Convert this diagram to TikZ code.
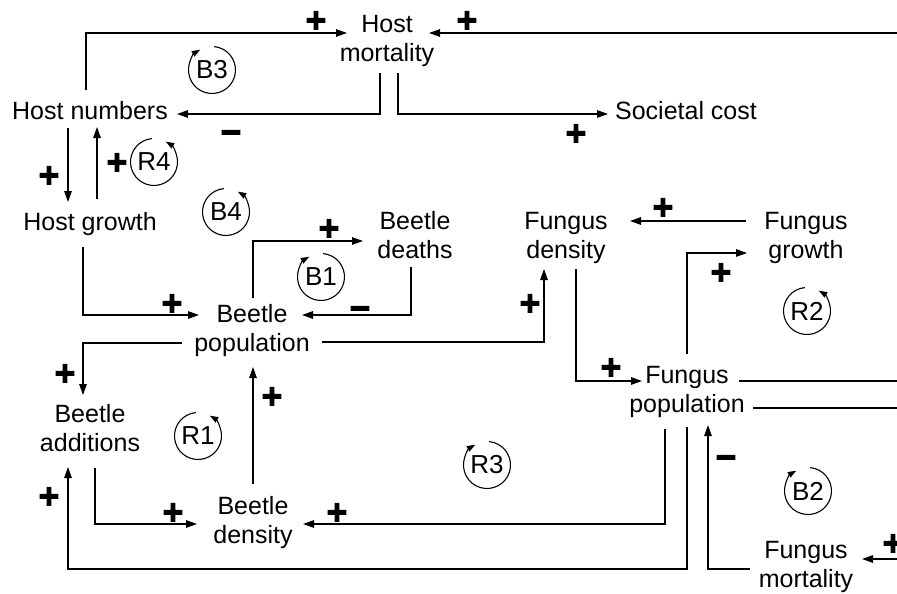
\documentclass[tikz,border=0pt]{standalone}
\usepackage{fontspec}
\setmainfont{Liberation Sans}
\newfontface\pmface{Liberation Sans Bold}[FakeBold=3]
\usetikzlibrary{arrows.meta,calc}
\begin{document}
\begin{tikzpicture}[x=1pt,y=-1pt,
  lbl/.style={inner sep=0pt, align=center, font=\fontsize{25}{29}\selectfont},
  arr/.style={line width=1.3pt, -{Triangle[length=11pt,width=7.5pt]}},
  ln/.style={line width=1.3pt},
  pm/.style={inner sep=0pt, anchor=base, yshift=-12pt, font=\pmface\fontsize{35}{35}\selectfont},
  looplbl/.style={inner sep=0pt, font=\fontsize{26}{26}\selectfont},
  looparr/.style={line width=1.1pt, -{Triangle[length=8.5pt,width=6pt]}}
]
\fill[white] (0,0) rectangle (897,594);
\useasboundingbox (0,0) rectangle (897,594);

% nodes
\node[lbl] (hm)  at (387,41)  {Host\\mortality};
\node[lbl] (hn)  at (90,111)  {Host numbers};
\node[lbl] (sc)  at (686,111) {Societal cost};
\node[lbl] (hg)  at (90,224)  {Host growth};
\node[lbl] (bdt) at (415,235) {Beetle\\deaths};
\node[lbl] (fd)  at (566,238) {Fungus\\density};
\node[lbl] (fg)  at (806,238) {Fungus\\growth};
\node[lbl] (bp)  at (252,331) {Beetle\\population};
\node[lbl] (fp)  at (687,392) {Fungus\\population};
\node[lbl] (ba)  at (90,428)  {Beetle\\additions};
\node[lbl] (bdn) at (253,523) {Beetle\\density};
\node[lbl] (fm)  at (806,567) {Fungus\\mortality};

% free ends at the right edge
\coordinate (rt1) at (900,33);
\coordinate (rt2) at (900,381);
\coordinate (rt3) at (900,408);
\coordinate (rt4) at (900,559);

% connectors
\draw[arr] ($(hn)+(-4,-21)$) |- ($(hm)+(-40,-8)$);
\draw[arr] (rt1) -- ($(hm)+(42,-8)$);
\draw[arr] ($(hm)+(-7,32)$) |- ($(hn)+(87,3)$);
\draw[arr] ($(hm)+(11,32)$) |- ($(sc)+(-78,3)$);
\draw[arr] ($(hn)+(-22,17)$) -- ($(hg)+(-22,-22)$);
\draw[arr] ($(hg)+(7,-25)$) -- ($(hn)+(7,16)$);
\draw[arr] ($(hg)+(-7,23)$) |- ($(bp)+(-53,-16)$);
\draw[arr] ($(bp)+(1,-33)$) |- ($(bdt)+(-52,6)$);
\draw[arr] ($(bdt)+(-4,32)$) |- ($(bp)+(50,-16)$);
\draw[arr] ($(bp)+(70,11)$) -| ($(fd)+(-22,31)$);
\draw[arr] ($(bp)+(-70,12)$) -| ($(ba)+(-7,-33)$);
\draw[arr] ($(bdn)+(0,-39)$) -- ($(bp)+(1,36)$);
\draw[arr] ($(ba)+(5,40)$) |- ($(bdn)+(-56,1)$);
\draw[arr] ($(fp)+(-22,37)$) |- ($(bdn)+(50,1)$);
\draw[arr] ($(fp)+(0,35)$) |- ($(ba)+(-22,141)$) -- ($(ba)+(-22,39)$);
\draw[arr] ($(fd)+(10,31)$) |- ($(fp)+(-45,-11)$);
\draw[arr] ($(fp)+(0,-38)$) |- ($(fg)+(-59,15)$);
\draw[arr] ($(fg)+(-60,-17)$) -- ($(fd)+(64,-17)$);
\draw[ln] ($(fp)+(52,-11)$) -- (rt2);
\draw[ln] ($(fp)+(66,16)$) -- (rt3);
\draw[arr] ($(fm)+(-56,2)$) -| ($(fp)+(21,33)$);
\draw[arr] (rt4) -- ($(fm)+(56,-8)$);

% polarity signs
\node[pm] (s1)  at (316,20)  {+};
\node[pm] (s2)  at (467,20)  {+};
\node[pm] (s3)  at (231,132) {−};
\node[pm] (s4)  at (576,133) {+};
\node[pm] (s5)  at (49,175)  {+};
\node[pm] (s6)  at (117,162) {+};
\node[pm] (s7)  at (172,303) {+};
\node[pm] (s8)  at (329,228) {+};
\node[pm] (s9)  at (360,308) {−};
\node[pm] (s10) at (530,303) {+};
\node[pm] (s11) at (65,373)  {+};
\node[pm] (s12) at (272,396) {+};
\node[pm] (s13) at (173,512) {+};
\node[pm] (s14) at (337,512) {+};
\node[pm] (s15) at (49,496)  {+};
\node[pm] (s16) at (611,367) {+};
\node[pm] (s17) at (721,272) {+};
\node[pm] (s18) at (663,207) {+};
\node[pm] (s19) at (726,457) {−};
\node[pm] (s20) at (893,543) {+};

% loop markers: clockwise
\foreach \nm/\px/\py in {B3/212/70, B1/321/277, R3/487/465, B2/808/491}{
  \node[looplbl] (L\nm) at (\px,\py) {\nm};
  \draw[looparr] (L\nm.center) ++(-85:23.5) arc[start angle=-85, end angle=240, radius=23.5];
}
% loop markers: counter-clockwise
\foreach \nm/\px/\py in {R4/154/162, B4/226/212, R2/807/311, R1/198/436}{
  \node[looplbl] (L\nm) at (\px,\py) {\nm};
  \draw[looparr] (L\nm.center) ++(-95:23.5) arc[start angle=-95, end angle=-420, radius=23.5];
}
\end{tikzpicture}
\end{document}
